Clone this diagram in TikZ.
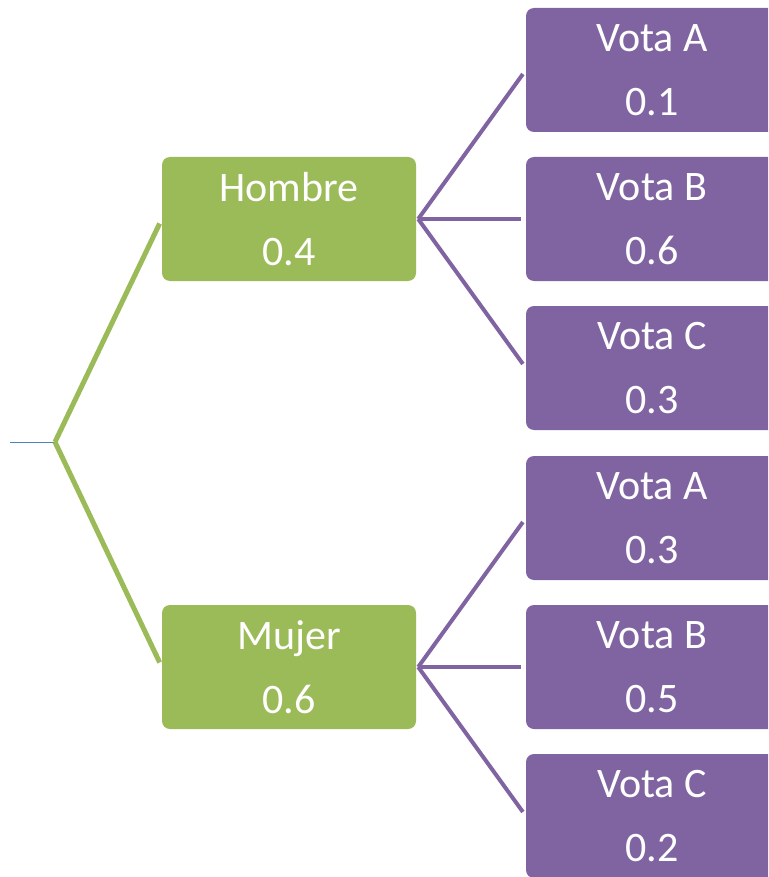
\documentclass[tikz,border=0pt]{standalone}
\usepackage{fontspec}
\setmainfont{Carlito}
\usetikzlibrary{calc}
\definecolor{ogreen}{HTML}{9BBB59}
\definecolor{opurple}{HTML}{8064A2}
\definecolor{oblue}{HTML}{4F81BD}
\begin{document}
\begin{tikzpicture}[x=1pt,y=-1pt,
  gbox/.style={fill=ogreen, draw=none, rounded corners=8pt, minimum width=254pt, minimum height=124pt, inner sep=0pt, text=white, align=center, font=\fontsize{42}{64}\selectfont},
  pbox/.style={fill=opurple, draw=none, rounded corners=8pt, minimum width=252pt, minimum height=124pt, inner sep=0pt, text=white, align=center, font=\fontsize{42}{64}\selectfont},
  gline/.style={ogreen, line width=5pt},
  pline/.style={opurple, line width=4pt}]
\useasboundingbox (0,0) rectangle (768,877);
\clip (0,0) rectangle (768,877);
\node[gbox] (h) at (289,219) {Hombre\\0.4};
\node[gbox] (m) at (289,667) {Mujer\\0.6};
\node[pbox] (ha) at (652,70) {Vota A\\0.1};
\node[pbox] (hb) at (652,219) {Vota B\\0.6};
\node[pbox] (hc) at (652,368) {Vota C\\0.3};
\node[pbox] (ma) at (652,518) {Vota A\\0.3};
\node[pbox] (mb) at (652,667) {Vota B\\0.5};
\node[pbox] (mc) at (652,816) {Vota C\\0.2};
\coordinate (r0) at (10,442);
\coordinate (r) at (55,442);
\draw[oblue, line width=1pt] (r0) -- (r);
\draw[gline, shorten >=5pt] (r) -- (h.west);
\draw[gline, shorten >=5pt] (r) -- (m.west);
\coordinate (hj) at ($(h.east)+(2,0)$);
\coordinate (mj) at ($(m.east)+(2,0)$);
\foreach \t in {ha,hb,hc} \draw[pline, shorten >=5pt] (hj) -- (\t.west);
\foreach \t in {ma,mb,mc} \draw[pline, shorten >=5pt] (mj) -- (\t.west);
\end{tikzpicture}
\end{document}
